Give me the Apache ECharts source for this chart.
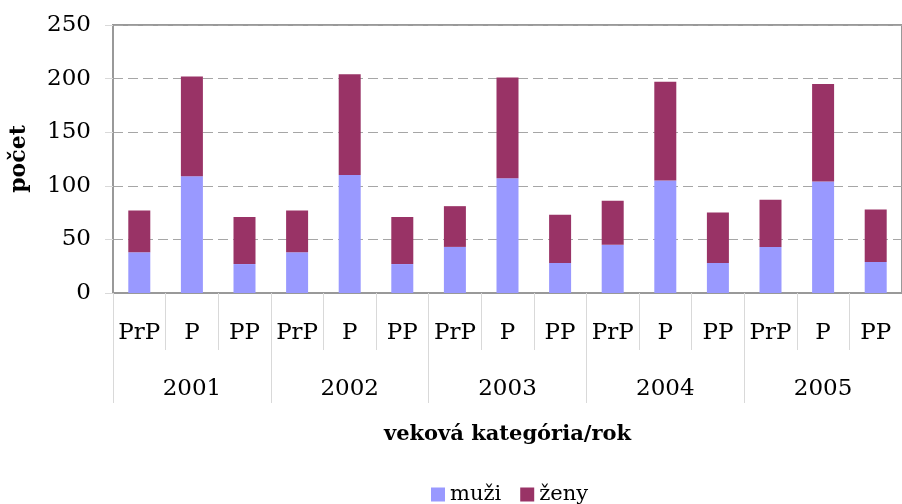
<!DOCTYPE html>
<html>
<head>
<meta charset="utf-8">
<script src="https://cdn.jsdelivr.net/npm/echarts@6/dist/echarts.min.js"></script>
<style>
html,body{margin:0;padding:0;background:#fff;}
#main{width:902px;height:504px;}
</style>
</head>
<body>
<div id="main"></div>
<script>
var categories = ['PrP','P','PP','PrP','P','PP','PrP','P','PP','PrP','P','PP','PrP','P','PP'];
var years = ['2001','2002','2003','2004','2005'];
var muzi = [38,109,27, 38,110,27, 43,107,28, 45,105,28, 43,104,29];
var zeny = [39,93,44, 39,94,44, 38,94,45, 41,92,47, 44,91,49];
var yTicks = [0,50,100,150,200,250];

var SERIF = '"DejaVu Serif", serif';
var chart = echarts.init(document.getElementById('main'), null, {renderer:'canvas'});
chart.setOption({
  animation:false,
  backgroundColor:'#fff',
  grid:{left:111, top:25, width:798, height:268, show:true, borderColor:'#999', borderWidth:2, backgroundColor:'transparent'},
  legend:{
    data:['muži','ženy'], left:431, top:484, padding:0, icon:'rect', itemWidth:14, itemHeight:14, itemGap:19,
    textStyle:{fontFamily:SERIF, fontSize:21, color:'#000'}
  },
  xAxis:[{
    type:'category', data:categories, position:'bottom',
    axisLine:{show:true, lineStyle:{color:'#999', width:2}},
    axisTick:{show:true, length:57, lineStyle:{color:'#d9d9d9', width:1}},
    axisLabel:{margin:29, fontFamily:SERIF, fontSize:23, color:'#000', interval:0},
    name:'veková kategória/rok', nameLocation:'middle', nameGap:131,
    nameTextStyle:{fontFamily:SERIF, fontSize:21, fontWeight:'bold', color:'#000'}
  },{
    type:'category', data:years, position:'bottom',
    axisLine:{show:false},
    axisTick:{show:true, length:110, lineStyle:{color:'#d9d9d9', width:1}},
    axisLabel:{margin:85, fontFamily:SERIF, fontSize:23, color:'#000', interval:0}
  }],
  yAxis:{
    type:'value', min:yTicks[0], max:yTicks[yTicks.length-1], interval:50,
    axisLine:{show:true, lineStyle:{color:'#999', width:2}},
    axisTick:{show:true, length:8, lineStyle:{color:'#d9d9d9'}},
    axisLabel:{margin:22, fontFamily:SERIF, fontSize:23, color:'#000'},
    splitLine:{show:true, lineStyle:{color:'#a6a6a6', type:[10,5], width:1}},
    name:'počet', nameLocation:'middle', nameGap:83, nameRotate:90,
    nameTextStyle:{fontFamily:SERIF, fontSize:22, fontWeight:'bold', color:'#000'}
  },
  series:[
    {name:'muži', type:'bar', stack:'a', data:muzi, barWidth:22, itemStyle:{color:'#9999FF'}},
    {name:'ženy', type:'bar', stack:'a', data:zeny, barWidth:22, itemStyle:{color:'#993366'}}
  ]
});
</script>
</body>
</html>
